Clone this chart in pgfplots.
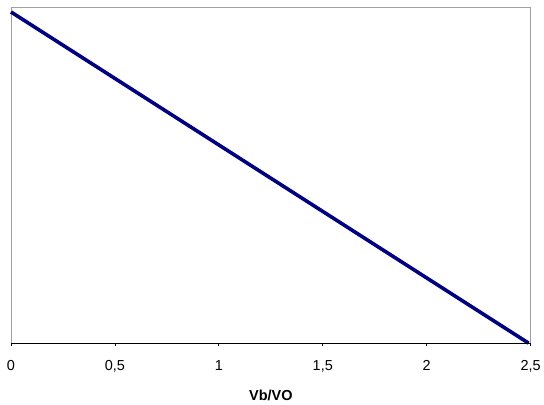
\documentclass[border=0pt]{standalone}
\usepackage{pgfplots}
\pgfplotsset{compat=1.18}
\usepackage{fontspec}
\setmainfont{Liberation Sans}
\begin{document}
\begin{tikzpicture}[font=\fontsize{14.5}{17}\selectfont]
\begin{axis}[
    name=ax,
    scale only axis,
    width=521pt, height=337pt,
    xmin=0, xmax=2.5,
    ymin=0, ymax=1.015,
    xtick={0,0.5,1,1.5,2,2.5},
    ytick=\empty,
    xtick pos=bottom,
    tick align=outside,
    major tick length=3pt,
    xtick style={black, line width=0.8pt},
    axis line style={gray!75, line width=0.9pt},
    /pgf/number format/.cd, use comma, assume math mode=true,
    /pgfplots/.cd,
    xticklabel style={anchor=base, yshift=-24pt},
    xlabel={\textbf{Vb/VO}},
    xlabel style={at={(axis description cs:0.5,0)}, anchor=base, yshift=-58pt},
    clip=false]
  \addplot[color={rgb,255:red,0;green,0;blue,128}, line width=3.6pt]
    coordinates {(0,1) (2.49,0)};
  \draw[black, line width=0.9pt] (rel axis cs:0,0) -- (rel axis cs:1,0);
\end{axis}
\useasboundingbox ([shift={(-11pt,-62pt)}]ax.south west) rectangle ([shift={(12pt,7pt)}]ax.north east);
\end{tikzpicture}
\end{document}
